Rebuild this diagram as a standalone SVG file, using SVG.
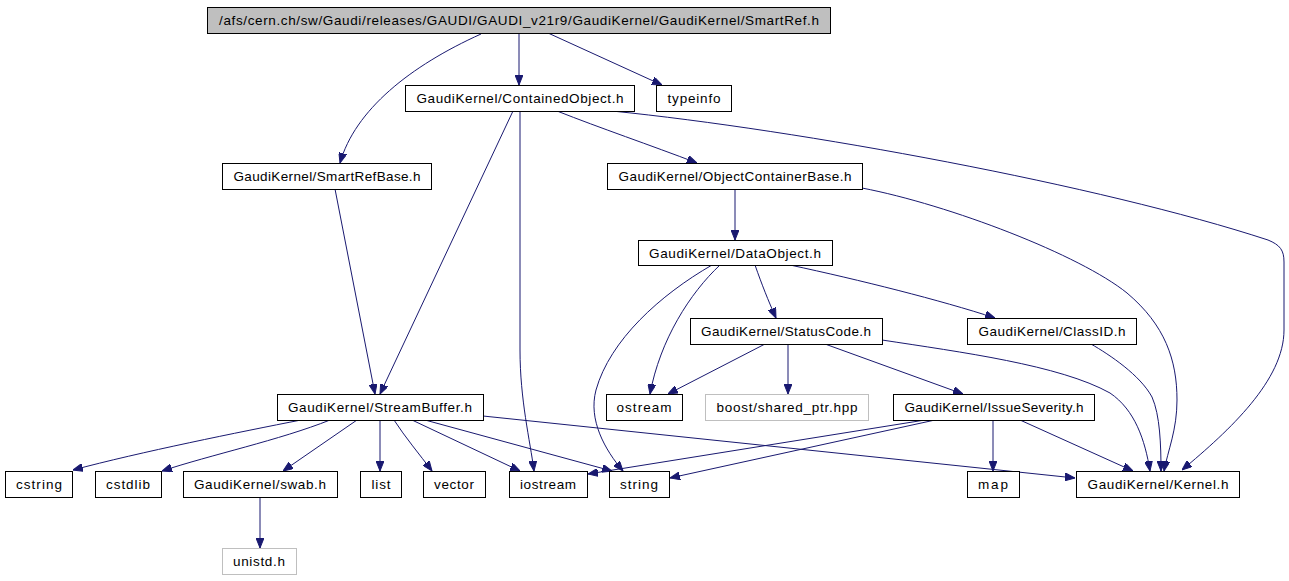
<svg xmlns="http://www.w3.org/2000/svg" width="1289" height="581" viewBox="0 0 1289 581">
<style>
.n rect{fill:#fff;stroke:#000;stroke-width:1}
.n.root rect{fill:#bfbfbf}
.n.g rect{stroke:#bfbfbf}
.n text{font-family:"Liberation Sans",Arial,sans-serif;font-size:13.5px;fill:#000;text-anchor:middle}
#edges path{fill:none;stroke:#191970;stroke-width:1;marker-end:url(#ah)}
</style>
<defs>
<marker id="ah" viewBox="0 0 10 8" refX="10" refY="4" markerWidth="10" markerHeight="8" markerUnits="userSpaceOnUse" orient="auto">
<path d="M0,0 L10,4 L0,8 z" fill="#191970" stroke="#191970"/>
</marker>
</defs>
<rect width="1289" height="581" fill="#fff"/>
<g id="edges">
<path d="M481,34 C410,66 355,110 340,163"/>
<path d="M519,33 L519,85"/>
<path d="M548,33 L662,85"/>
<path d="M513,111 L380,394"/>
<path d="M520,111 L520,350 C520,400 530,440 534,471"/>
<path d="M557,111 C600,128 650,145 697,163"/>
<path d="M612,111 C800,130 1100,185 1268,240 C1280,245 1284,250 1284,262 L1284,330 C1284,380 1230,430 1182,470"/>
<path d="M335,189 L375,394"/>
<path d="M735,189 L735,240"/>
<path d="M862,188 C950,205 1080,255 1127,293 C1165,325 1177,360 1177,400 C1177,430 1168,450 1164,471"/>
<path d="M720,265 C690,293 660,340 650,394"/>
<path d="M712,265 C660,295 610,340 596,390 C588,420 605,450 623,471"/>
<path d="M755,265 C762,285 768,300 776,318"/>
<path d="M790,265 C860,280 940,300 995,318"/>
<path d="M765,344 L668,394"/>
<path d="M788,344 L788,394"/>
<path d="M825,344 L963,394"/>
<path d="M882,340 C960,352 1060,365 1110,393 C1135,410 1145,440 1150,471"/>
<path d="M1091,344 C1110,355 1140,375 1152,397 C1160,415 1161,445 1161,471"/>
<path d="M925,420 L588,474"/>
<path d="M935,420 L670,478"/>
<path d="M993,420 L993,471"/>
<path d="M1020,420 L1133,471"/>
<path d="M301,420 C240,432 140,452 73,470"/>
<path d="M330,420 C280,440 210,455 162,471"/>
<path d="M357,420 L283,471"/>
<path d="M380,420 L380,471"/>
<path d="M394,420 C405,437 420,455 432,471"/>
<path d="M412,420 L520,471"/>
<path d="M425,420 L612,471"/>
<path d="M483,416 L1075,478"/>
<path d="M260,497 L260,548"/>
</g>
<g id="root" class="n root"><rect x="207.5" y="7.5" width="623" height="26"/><text x="519" y="25" textLength="600" lengthAdjust="spacing">/afs/cern.ch/sw/Gaudi/releases/GAUDI/GAUDI_v21r9/GaudiKernel/GaudiKernel/SmartRef.h</text></g>
<g id="ContainedObject" class="n"><rect x="405.5" y="85.5" width="229" height="26"/><text x="520" y="103" textLength="207" lengthAdjust="spacing">GaudiKernel/ContainedObject.h</text></g>
<g id="typeinfo" class="n"><rect x="656.5" y="85.5" width="75" height="26"/><text x="694" y="103" textLength="53" lengthAdjust="spacing">typeinfo</text></g>
<g id="SmartRefBase" class="n"><rect x="222.5" y="163.5" width="209" height="26"/><text x="327" y="181" textLength="187" lengthAdjust="spacing">GaudiKernel/SmartRefBase.h</text></g>
<g id="ObjectContainerBase" class="n"><rect x="607.5" y="163.5" width="255" height="26"/><text x="735" y="181" textLength="233" lengthAdjust="spacing">GaudiKernel/ObjectContainerBase.h</text></g>
<g id="DataObject" class="n"><rect x="638.5" y="240.5" width="194" height="25"/><text x="735" y="258" textLength="172" lengthAdjust="spacing">GaudiKernel/DataObject.h</text></g>
<g id="StatusCode" class="n"><rect x="690.5" y="318.5" width="192" height="26"/><text x="786" y="336" textLength="170" lengthAdjust="spacing">GaudiKernel/StatusCode.h</text></g>
<g id="ClassID" class="n"><rect x="967.5" y="318.5" width="169" height="26"/><text x="1052" y="336" textLength="147" lengthAdjust="spacing">GaudiKernel/ClassID.h</text></g>
<g id="ostream" class="n"><rect x="606.5" y="394.5" width="76" height="26"/><text x="644" y="412" textLength="55" lengthAdjust="spacing">ostream</text></g>
<g id="boost" class="n g"><rect x="705.5" y="394.5" width="163" height="26"/><text x="787" y="412" textLength="141" lengthAdjust="spacing">boost/shared_ptr.hpp</text></g>
<g id="IssueSeverity" class="n"><rect x="893.5" y="394.5" width="201" height="26"/><text x="994" y="412" textLength="179" lengthAdjust="spacing">GaudiKernel/IssueSeverity.h</text></g>
<g id="StreamBuffer" class="n"><rect x="277.5" y="394.5" width="206" height="26"/><text x="380" y="412" textLength="184" lengthAdjust="spacing">GaudiKernel/StreamBuffer.h</text></g>
<g id="cstring" class="n"><rect x="5.5" y="471.5" width="67" height="26"/><text x="39" y="489" textLength="46" lengthAdjust="spacing">cstring</text></g>
<g id="cstdlib" class="n"><rect x="95.5" y="471.5" width="66" height="26"/><text x="128" y="489" textLength="44" lengthAdjust="spacing">cstdlib</text></g>
<g id="swab" class="n"><rect x="183.5" y="471.5" width="154" height="26"/><text x="260" y="489" textLength="132" lengthAdjust="spacing">GaudiKernel/swab.h</text></g>
<g id="list" class="n"><rect x="360.5" y="471.5" width="41" height="26"/><text x="381" y="489" textLength="19" lengthAdjust="spacing">list</text></g>
<g id="vector" class="n"><rect x="423.5" y="471.5" width="62" height="26"/><text x="454" y="489" textLength="40" lengthAdjust="spacing">vector</text></g>
<g id="iostream" class="n"><rect x="509.5" y="471.5" width="78" height="26"/><text x="548" y="489" textLength="56" lengthAdjust="spacing">iostream</text></g>
<g id="string" class="n"><rect x="609.5" y="471.5" width="60" height="26"/><text x="639" y="489" textLength="38" lengthAdjust="spacing">string</text></g>
<g id="map" class="n"><rect x="967.5" y="471.5" width="52" height="26"/><text x="993" y="489" textLength="30" lengthAdjust="spacing">map</text></g>
<g id="Kernel" class="n"><rect x="1076.5" y="471.5" width="163" height="26"/><text x="1158" y="489" textLength="141" lengthAdjust="spacing">GaudiKernel/Kernel.h</text></g>
<g id="unistd" class="n g"><rect x="222.5" y="548.5" width="74" height="26"/><text x="259" y="566" textLength="52" lengthAdjust="spacing">unistd.h</text></g>
</svg>
